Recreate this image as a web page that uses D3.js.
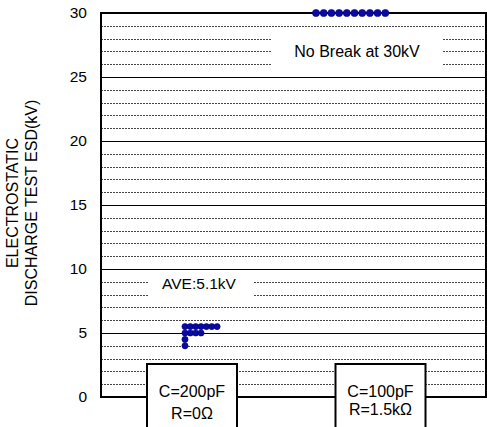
<!DOCTYPE html>
<html>
<head>
<meta charset="utf-8">
<script src="https://cdn.jsdelivr.net/npm/d3@7"></script>
<style>
  html, body { margin: 0; padding: 0; background: #fff; }
  svg { display: block; font-family: "Liberation Sans", Arial, sans-serif; }
</style>
</head>
<body>
<svg id="chart" width="487" height="427"></svg>
<script>
// ---- data ----
const categories = ["C=200pF\nR=0Ω", "C=100pF\nR=1.5kΩ"];
const esd200pF = [5.5, 5.5, 5.5, 5.5, 5.5, 5.5, 5.5, 5.0, 5.0, 5.0, 5.0, 4.5, 4.0];
const esd100pF = [30, 30, 30, 30, 30, 30, 30, 30, 30, 30];
const yTicks = [0, 5, 10, 15, 20, 25, 30];
const minorTicks = d3.range(0, 31, 1);
const axisTitle = ["ELECTROSTATIC", "DISCHARGE TEST ESD(kV)"];
const aveLabel = "AVE:5.1kV";
const noBreakLabel = "No Break at 30kV";

// ---- layout ----
const svg = d3.select("#chart");
const L = 101, R = 486, T = 13, B = 397;
const y = d3.scaleLinear().domain([0, 30]).range([B, T]);
const x = d3.scalePoint().domain(categories).range([96, 476]).padding(0.5);

// grid lines
const grid = svg.append("g");
minorTicks.filter(v => v > 0 && v < 30).forEach(v => {
  const major = v % 5 === 0;
  grid.append("line")
    .attr("x1", L).attr("x2", R)
    .attr("y1", Math.round(y(v)) + 0.5).attr("y2", Math.round(y(v)) + 0.5)
    .attr("stroke", major ? "#000" : "#444")
    .attr("stroke-width", 1)
    .attr("stroke-dasharray", major ? null : "2,1");
});

// white label boxes over grid
svg.append("rect").attr("x", 272).attr("y", y(28.6)).attr("width", 171).attr("height", y(25.6) - y(28.6)).attr("fill", "#fff");
svg.append("rect").attr("x", 148).attr("y", y(9.5)).attr("width", 105).attr("height", y(7.5) - y(9.5)).attr("fill", "#fff");

// y axis tick labels
const yAxis = d3.axisLeft(y).tickValues(yTicks).tickSize(0).tickPadding(14);
const ga = svg.append("g").attr("transform", `translate(${L},0)`).call(yAxis);
ga.select(".domain").remove();
ga.selectAll("text").attr("font-size", 15.5).attr("fill", "#000")
  .attr("font-family", "Liberation Sans, Arial, sans-serif");

// frame
svg.append("rect").attr("x", L).attr("y", T).attr("width", R - L).attr("height", B - T)
  .attr("fill", "none").attr("stroke", "#000").attr("stroke-width", 2);

// axis title
const title = svg.append("text")
  .attr("transform", `translate(0,203) rotate(-90)`)
  .attr("text-anchor", "middle").attr("font-size", 16).attr("fill", "#000");
axisTitle.forEach((t, i) => {
  title.append("tspan").attr("x", 0).attr("y", 17.5 + i * 19.5).text(t);
});

// labels
svg.append("text").attr("x", 357).attr("y", y(27)).attr("dy", "0.35em")
  .attr("text-anchor", "middle").attr("font-size", 16).text(noBreakLabel);
svg.append("text").attr("x", 199).attr("y", y(8.9)).attr("dy", "0.35em")
  .attr("text-anchor", "middle").attr("font-size", 15.5).text(aveLabel);

// category boxes
const boxW = 90;
categories.forEach((c, i) => {
  const cx = x(c) + (i === 0 ? 1 : -0.5);
  svg.append("rect").attr("x", cx - boxW / 2).attr("y", 364).attr("width", boxW).attr("height", 80)
    .attr("fill", "#fff").attr("stroke", "#000").attr("stroke-width", 2);
  const lines = c.split("\n");
  const ys = i === 0 ? [391, 413] : [391, 409];
  lines.forEach((ln, j) => {
    svg.append("text").attr("x", cx).attr("y", ys[j]).attr("dy", "0.35em")
      .attr("text-anchor", "middle").attr("font-size", 16).text(ln);
  });
});

// dots: stack repeated values horizontally
function stacked(vals) {
  const count = {};
  return vals.map(v => { const k = String(v); count[k] = (count[k] || 0); return { v, i: count[k]++ }; });
}
const groups = [
  { cat: categories[0], vals: esd200pF, start: -6, step: 5.35, r: 3.1 },
  { cat: categories[1], vals: esd100pF, start: -65, step: 7.7, r: 3.6 }
];
groups.forEach(g => {
  svg.append("g").selectAll("circle").data(stacked(g.vals)).join("circle")
    .attr("cx", d => x(g.cat) + g.start + d.i * g.step)
    .attr("cy", d => y(d.v))
    .attr("r", g.r)
    .attr("fill", "#0a0aa0")
    .attr("stroke", "#000080").attr("stroke-width", 0.6);
});
</script>
</body>
</html>
